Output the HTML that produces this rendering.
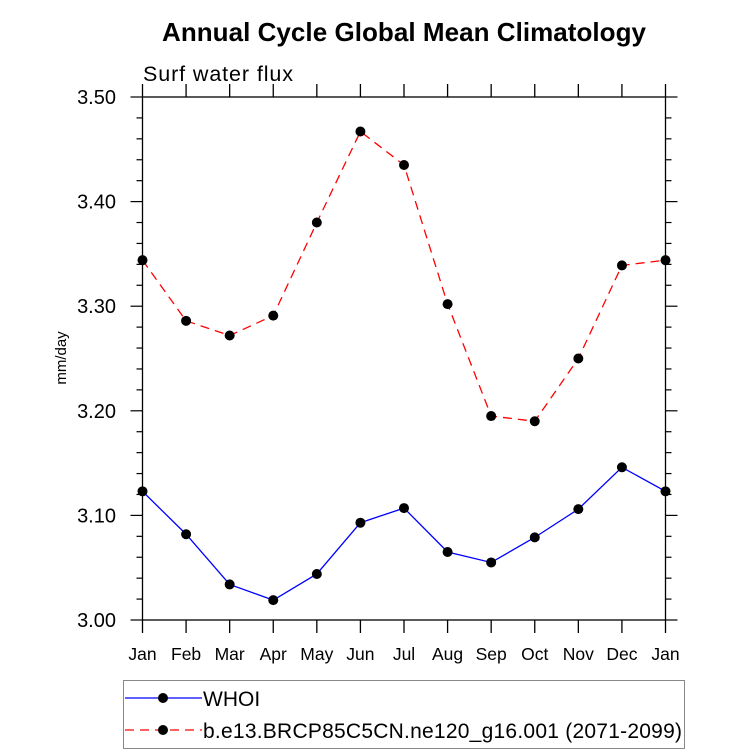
<!DOCTYPE html>
<html><head><meta charset="utf-8"><style>
body{margin:0;background:#fff;}
svg{display:block;font-family:"Liberation Sans",sans-serif;}
</style></head><body>
<svg id="c" width="733" height="755">
<text x="162" y="41" font-size="26" font-weight="bold" textLength="484">Annual Cycle Global Mean Climatology</text>
<text x="143" y="81" font-size="21.5" textLength="150">Surf water flux</text>
<text transform="translate(66,358) rotate(-90)" text-anchor="middle" font-size="15">mm/day</text>
<g id="axes"></g><g id="series"></g>
<rect x="123.5" y="680.5" width="561" height="68" fill="none" stroke="#888"/>
<line x1="125" y1="698" x2="202" y2="698" stroke="#0000ff" stroke-width="1.3"/>
<circle cx="163" cy="698" r="5" fill="#000"/>
<text x="203" y="706" font-size="21">WHOI</text>
<line x1="125" y1="730" x2="202" y2="730" stroke="#ff0000" stroke-width="1.3" stroke-dasharray="9,6"/>
<circle cx="163" cy="730" r="5" fill="#000"/>
<text x="203" y="738" font-size="21" textLength="479">b.e13.BRCP85C5CN.ne120_g16.001 (2071-2099)</text>
</svg>
<script>
const months=["Jan","Feb","Mar","Apr","May","Jun","Jul","Aug","Sep","Oct","Nov","Dec","Jan"];
const whoi=[3.123,3.082,3.034,3.019,3.044,3.093,3.107,3.065,3.055,3.079,3.106,3.146,3.123];
const model=[3.344,3.286,3.272,3.291,3.380,3.467,3.435,3.302,3.195,3.190,3.250,3.339,3.344];
const yTicks=[3.00,3.10,3.20,3.30,3.40,3.50];
const L=142.5,R=665.5,T=97,B=620,yMin=3.0,yMax=3.5;
const X=i=>L+(R-L)*i/(months.length-1);
const Y=v=>B-(B-T)*(v-yMin)/(yMax-yMin);
const NS="http://www.w3.org/2000/svg";
const ax=document.getElementById('axes'),se=document.getElementById('series');
function mk(p,t,a){const e=document.createElementNS(NS,t);for(const k in a)e.setAttribute(k,a[k]);p.appendChild(e);return e;}
let fr=mk(ax,'rect',{x:L,y:T,width:R-L,height:B-T,fill:'none',stroke:'#000','stroke-width':1.3});


months.forEach((m,i)=>{const x=X(i);
 mk(ax,'line',{x1:x,y1:B,x2:x,y2:B+13,stroke:'#000','stroke-width':1.3});
 mk(ax,'line',{x1:x,y1:T,x2:x,y2:T-13,stroke:'#000','stroke-width':1.3});
 const t=mk(ax,'text',{x:x,y:B+40,'text-anchor':'middle','font-size':17.5});t.textContent=m;
 
 
});
for(let v=yMin;v<=yMax+1e-9;v+=0.02){const y=Y(v);
 const major=Math.abs(Math.round(v*10)-v*10)<1e-6;const len=major?12:6;
 mk(ax,'line',{x1:L,y1:y,x2:L-len,y2:y,stroke:'#000','stroke-width':1.2});
 mk(ax,'line',{x1:R,y1:y,x2:R+len,y2:y,stroke:'#000','stroke-width':1.2});}
yTicks.forEach(v=>{const t=mk(ax,'text',{x:116,y:Y(v)+7,'text-anchor':'end','font-size':20});t.textContent=v.toFixed(2);
 
 });
function draw(d,col,dash,name){
 const pl=mk(se,'polyline',{points:d.map((v,i)=>X(i)+','+Y(v)).join(' '),fill:'none',stroke:col,'stroke-width':1.3,'stroke-dasharray':dash});
 
 
 d.forEach((v,i)=>{const c=mk(se,'circle',{cx:X(i),cy:Y(v),r:5,fill:'#000'});
  
  });
}
draw(model,'#ff0000','9,6','model');
draw(whoi,'#0000ff','none','whoi');
</script>
</body></html>
